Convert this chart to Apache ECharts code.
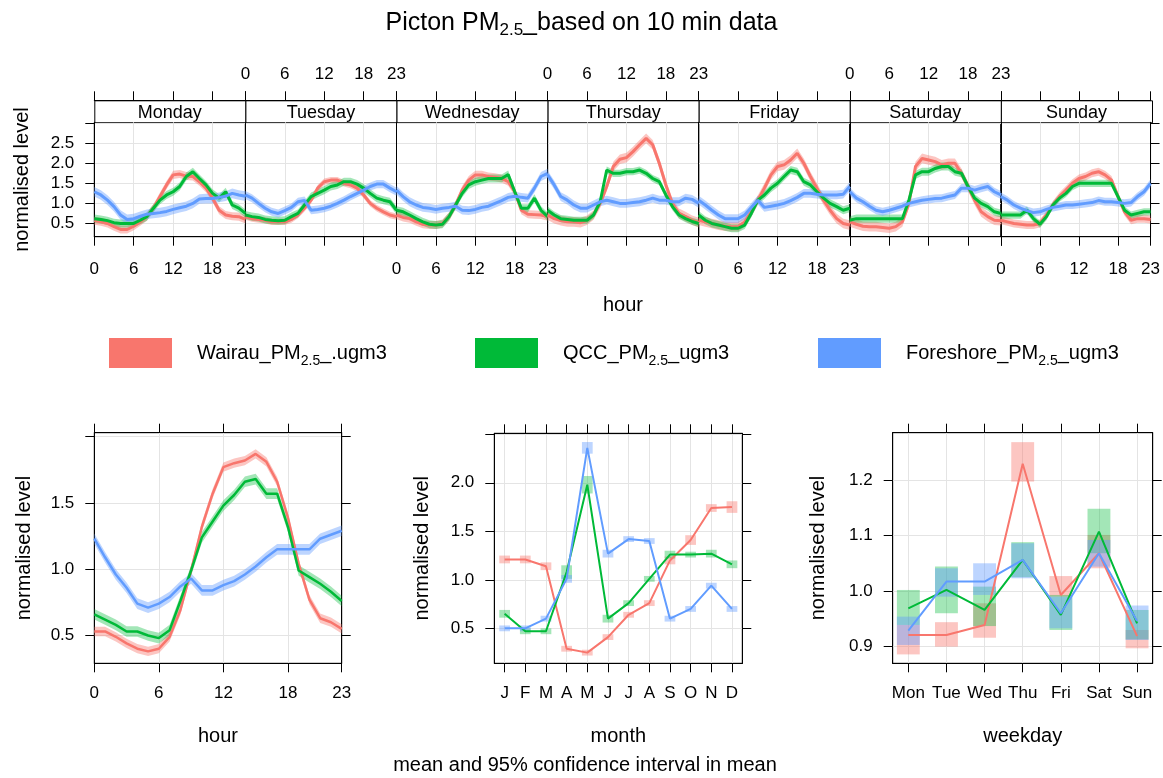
<!DOCTYPE html>
<html>
<head>
<meta charset="utf-8">
<script src="https://cdn.jsdelivr.net/npm/echarts@6/dist/echarts.min.js"></script>
<style>
html, body { margin: 0; padding: 0; background: #fff; }
#chart { width: 1163px; height: 778px; }
</style>
</head>
<body>
<div id="chart"></div>
<script>
const FONT = "'Liberation Sans', Arial, sans-serif"

const seriesNames = ['Wairau_PM2.5_.ugm3', 'QCC_PM2.5_ugm3', 'Foreshore_PM2.5_ugm3']
const lineCols = ['#F8766D', '#00BA38', '#619CFF']
const bandCols = ['rgba(248,118,109,0.42)', 'rgba(0,186,56,0.36)', 'rgba(97,156,255,0.42)']

const days = ['Monday', 'Tuesday', 'Wednesday', 'Thursday', 'Friday', 'Saturday', 'Sunday']
const hours = [0, 1, 2, 3, 4, 5, 6, 7, 8, 9, 10, 11, 12, 13, 14, 15, 16, 17, 18, 19, 20, 21, 22, 23]
const hourTicks = [0, 6, 12, 18, 23]
const months = ['J', 'F', 'M', 'A', 'M', 'J', 'J', 'A', 'S', 'O', 'N', 'D']
const monthNums = [1, 2, 3, 4, 5, 6, 7, 8, 9, 10, 11, 12]
const weekdays = ['Mon', 'Tue', 'Wed', 'Thu', 'Fri', 'Sat', 'Sun']
const weekdayNums = [1, 2, 3, 4, 5, 6, 7]

// day x hour means (Mon..Sun, hours 0..23)
const wairauWeek = [
  [0.57, 0.54, 0.5, 0.42, 0.35, 0.35, 0.43, 0.54, 0.67, 0.88, 1.17, 1.46, 1.71, 1.73, 1.68, 1.67, 1.54, 1.38, 1.13, 0.83, 0.71, 0.68, 0.67, 0.6],
  [0.67, 0.62, 0.6, 0.58, 0.54, 0.54, 0.54, 0.6, 0.71, 0.88, 1.08, 1.38, 1.54, 1.58, 1.58, 1.5, 1.46, 1.38, 1.21, 1.0, 0.88, 0.79, 0.71, 0.67],
  [0.71, 0.65, 0.62, 0.54, 0.48, 0.46, 0.46, 0.5, 0.67, 0.96, 1.33, 1.58, 1.71, 1.71, 1.67, 1.65, 1.62, 1.54, 1.29, 0.83, 0.73, 0.72, 0.71, 0.67],
  [0.71, 0.62, 0.57, 0.54, 0.54, 0.52, 0.58, 0.71, 1.0, 1.42, 1.92, 2.1, 2.14, 2.29, 2.46, 2.62, 2.46, 2.0, 1.46, 1.0, 0.75, 0.67, 0.58, 0.52],
  [0.58, 0.54, 0.5, 0.46, 0.43, 0.42, 0.42, 0.54, 0.79, 1.08, 1.38, 1.71, 1.92, 1.96, 2.08, 2.25, 2.0, 1.67, 1.38, 1.08, 0.83, 0.62, 0.5, 0.46],
  [0.54, 0.48, 0.43, 0.42, 0.42, 0.4, 0.38, 0.42, 0.54, 1.0, 1.92, 2.12, 2.08, 2.04, 1.96, 2.0, 2.0, 1.75, 1.42, 1.08, 0.79, 0.67, 0.58, 0.57],
  [0.58, 0.54, 0.5, 0.48, 0.46, 0.46, 0.5, 0.71, 0.96, 1.17, 1.33, 1.5, 1.62, 1.67, 1.75, 1.79, 1.71, 1.58, 1.17, 0.79, 0.58, 0.62, 0.62, 0.6]
]
const qccWeek = [
  [0.62, 0.6, 0.57, 0.52, 0.5, 0.5, 0.5, 0.58, 0.67, 0.88, 1.08, 1.21, 1.29, 1.42, 1.67, 1.79, 1.62, 1.46, 1.25, 1.13, 1.29, 0.96, 0.88, 0.75],
  [0.71, 0.67, 0.65, 0.6, 0.58, 0.57, 0.58, 0.67, 0.75, 0.96, 1.17, 1.25, 1.33, 1.42, 1.46, 1.54, 1.54, 1.48, 1.38, 1.25, 1.13, 1.08, 1.04, 0.83],
  [0.83, 0.79, 0.71, 0.62, 0.54, 0.48, 0.46, 0.48, 0.67, 0.96, 1.25, 1.46, 1.54, 1.58, 1.62, 1.62, 1.62, 1.72, 1.29, 0.88, 0.88, 1.13, 0.83, 0.67],
  [0.83, 0.71, 0.62, 0.6, 0.58, 0.58, 0.58, 0.71, 1.04, 1.83, 1.75, 1.75, 1.79, 1.79, 1.83, 1.75, 1.62, 1.54, 1.21, 0.92, 0.71, 0.62, 0.55, 0.5],
  [0.71, 0.58, 0.5, 0.46, 0.42, 0.38, 0.38, 0.46, 0.75, 1.08, 1.21, 1.38, 1.5, 1.67, 1.83, 1.79, 1.54, 1.46, 1.29, 1.13, 1.0, 0.92, 0.83, 0.88],
  [0.58, 0.62, 0.62, 0.62, 0.62, 0.62, 0.62, 0.62, 0.62, 1.08, 1.71, 1.79, 1.79, 1.87, 1.92, 1.92, 1.79, 1.75, 1.42, 1.13, 1.0, 0.92, 0.79, 0.75],
  [0.71, 0.71, 0.71, 0.71, 0.83, 0.62, 0.48, 0.67, 0.96, 1.13, 1.25, 1.42, 1.5, 1.5, 1.5, 1.5, 1.5, 1.5, 1.17, 0.83, 0.71, 0.75, 0.79, 0.79]
]
const foreshoreWeek = [
  [1.29, 1.21, 1.08, 0.92, 0.71, 0.6, 0.62, 0.68, 0.73, 0.75, 0.77, 0.8, 0.85, 0.89, 0.93, 1.0, 1.11, 1.12, 1.12, 1.15, 1.18, 1.25, 1.21, 1.18],
  [1.21, 1.13, 1.0, 0.88, 0.79, 0.75, 0.82, 0.9, 1.04, 1.07, 0.83, 0.85, 0.88, 0.93, 1.0, 1.08, 1.17, 1.25, 1.33, 1.42, 1.48, 1.48, 1.38, 1.29],
  [1.33, 1.17, 1.04, 0.96, 0.9, 0.88, 0.85, 0.88, 0.9, 0.93, 0.83, 0.82, 0.85, 0.9, 0.93, 1.0, 1.07, 1.15, 1.18, 1.15, 1.13, 1.38, 1.67, 1.75],
  [1.71, 1.46, 1.17, 1.08, 0.96, 0.88, 0.88, 0.96, 1.04, 1.08, 1.04, 1.0, 1.0, 1.02, 1.04, 1.08, 1.13, 1.08, 1.08, 1.04, 1.04, 1.13, 1.1, 1.0],
  [1.08, 0.96, 0.83, 0.71, 0.62, 0.62, 0.62, 0.71, 0.9, 1.08, 0.9, 0.93, 0.96, 1.0, 1.07, 1.15, 1.25, 1.25, 1.23, 1.21, 1.21, 1.21, 1.23, 1.42],
  [1.29, 1.13, 1.04, 0.93, 0.83, 0.79, 0.83, 0.88, 0.93, 1.0, 1.04, 1.08, 1.1, 1.12, 1.13, 1.17, 1.21, 1.38, 1.38, 1.33, 1.38, 1.42, 1.29, 1.21],
  [1.17, 1.08, 0.96, 0.88, 0.82, 0.77, 0.79, 0.85, 0.9, 0.93, 0.96, 0.96, 0.98, 1.0, 1.02, 1.07, 1.04, 1.04, 1.02, 1.0, 1.02, 1.17, 1.29, 1.5]
]
// half width of the 95% band, per series and day
const weekCI = [
  [0.1, 0.08, 0.1, 0.12, 0.12, 0.12, 0.1],
  [0.1, 0.1, 0.1, 0.09, 0.1, 0.1, 0.09],
  [0.12, 0.1, 0.11, 0.11, 0.11, 0.1, 0.1]
]

// hour of day
const wairauHour = [0.53, 0.53, 0.49, 0.44, 0.4, 0.38, 0.4, 0.49, 0.69, 0.99, 1.32, 1.57, 1.77, 1.8, 1.82, 1.87, 1.81, 1.66, 1.39, 1.04, 0.77, 0.63, 0.6, 0.55]
const qccHour = [0.66, 0.62, 0.58, 0.53, 0.53, 0.5, 0.48, 0.54, 0.76, 0.99, 1.24, 1.36, 1.48, 1.56, 1.66, 1.68, 1.57, 1.57, 1.32, 0.99, 0.94, 0.89, 0.83, 0.76]
const foreshoreHour = [1.23, 1.09, 0.96, 0.86, 0.74, 0.71, 0.74, 0.79, 0.87, 0.93, 0.84, 0.84, 0.88, 0.91, 0.96, 1.02, 1.09, 1.15, 1.15, 1.15, 1.15, 1.23, 1.26, 1.29]
const hourCI = [0.035, 0.04, 0.04]

// month
const wairauMonth = [1.21, 1.21, 1.14, 0.29, 0.25, 0.41, 0.64, 0.76, 1.2, 1.41, 1.74, 1.75]
const qccMonth = [0.65, 0.47, 0.47, 1.08, 1.98, 0.6, 0.76, 1.01, 1.26, 1.26, 1.27, 1.16]
const foreshoreMonth = [0.5, 0.5, 0.6, 1.01, 2.36, 1.27, 1.42, 1.4, 0.6, 0.7, 0.94, 0.7]
const wairauMonthCI = [0.04, 0.04, 0.04, 0.03, 0.03, 0.03, 0.03, 0.03, 0.04, 0.05, 0.04, 0.06]
const qccMonthCI = [0.04, 0.03, 0.03, 0.07, 0.09, 0.04, 0.03, 0.03, 0.04, 0.03, 0.04, 0.04]
const foreshoreMonthCI = [0.03, 0.03, 0.03, 0.04, 0.06, 0.04, 0.03, 0.03, 0.03, 0.03, 0.03, 0.03]

// weekday
const wairauDay = [0.921, 0.921, 0.939, 1.229, 0.993, 1.068, 0.919]
const wairauDayLo = [0.886, 0.9, 0.916, 1.197, 0.99, 1.041, 0.897]
const wairauDayHi = [0.939, 0.944, 0.978, 1.268, 1.027, 1.101, 0.93]
const qccDay = [0.969, 1.002, 0.966, 1.056, 0.957, 1.107, 0.942]
const qccDayLo = [0.939, 0.96, 0.937, 1.025, 0.93, 1.068, 0.913]
const qccDayHi = [1.002, 1.044, 1.008, 1.088, 0.993, 1.148, 0.966]
const foreshoreDay = [0.929, 1.017, 1.017, 1.056, 0.96, 1.068, 0.946]
const foreshoreDayLo = [0.903, 0.99, 0.993, 1.023, 0.933, 1.044, 0.912]
const foreshoreDayHi = [0.954, 1.041, 1.05, 1.086, 0.99, 1.092, 0.974]

const weekData = [wairauWeek, qccWeek, foreshoreWeek]
const hourData = [wairauHour, qccHour, foreshoreHour]
const monthData = [wairauMonth, qccMonth, foreshoreMonth]
const monthCI = [wairauMonthCI, qccMonthCI, foreshoreMonthCI]
const dayData = [wairauDay, qccDay, foreshoreDay]
const dayLo = [wairauDayLo, qccDayLo, foreshoreDayLo]
const dayHi = [wairauDayHi, qccDayHi, foreshoreDayHi]

const fmt1 = v => v.toFixed(1)

function axis(gridIndex, o) {
  return {
    type: 'value',
    gridIndex,
    min: o.min,
    max: o.max,
    position: o.position,
    offset: o.offset || 0,
    axisLine: { show: o.line !== false, onZero: false, lineStyle: { color: '#000', width: 1 } },
    axisTick: { show: o.tickShow !== false, customValues: o.ticks, length: 9, lineStyle: { color: '#000' } },
    axisLabel: {
      show: !!o.labels, customValues: o.labels || o.ticks, margin: o.margin || 20,
      color: '#000', fontSize: 17, fontFamily: FONT, formatter: o.formatter
    },
    splitLine: { show: !!o.split, lineStyle: { color: '#e4e4e4', width: 1 } },
    name: o.name || '',
    nameLocation: 'middle',
    nameGap: o.nameGap || 0,
    nameTextStyle: { color: '#000', fontSize: 20, fontFamily: FONT }
  }
}

function bandSeries(name, xi, yi, xs, lo, hi, color) {
  const data = xs.map((x, i) => [x, lo[i], hi[i]])
  return {
    type: 'custom', name, xAxisIndex: xi, yAxisIndex: yi, silent: true, clip: true, data,
    encode: { x: 0, y: [1, 2] },
    renderItem(params, api) {
      if (params.dataIndex !== 0) return null
      const pts = []
      for (let i = 0; i < data.length; i++) pts.push(api.coord([data[i][0], data[i][2]]))
      for (let i = data.length - 1; i >= 0; i--) pts.push(api.coord([data[i][0], data[i][1]]))
      return { type: 'polygon', shape: { points: pts }, style: { fill: color } }
    }
  }
}

function boxSeries(name, xi, yi, xs, lo, hi, halfW, color) {
  return {
    type: 'custom', name, xAxisIndex: xi, yAxisIndex: yi, silent: true,
    data: xs.map((x, i) => [x, lo[i], hi[i]]),
    encode: { x: 0, y: [1, 2] },
    renderItem(params, api) {
      const p1 = api.coord([api.value(0) - halfW, api.value(2)])
      const p2 = api.coord([api.value(0) + halfW, api.value(1)])
      return { type: 'rect', shape: { x: p1[0], y: p1[1], width: p2[0] - p1[0], height: p2[1] - p1[1] }, style: { fill: color } }
    }
  }
}

function lineSeries(name, xi, yi, xs, ys, color, width) {
  return {
    type: 'line', name, xAxisIndex: xi, yAxisIndex: yi,
    data: xs.map((x, i) => [x, ys[i]]),
    showSymbol: false, symbol: 'none', silent: true,
    lineStyle: { color, width }, itemStyle: { color }
  }
}

const grids = [], xAxes = [], yAxes = [], series = [], graphics = []

// ---- week panels
const P = { left: 94.3, w: 151.1, top: 122.3, h: 114.4, strip: 22 }
days.forEach((day, d) => {
  const g = grids.length
  grids.push({ left: P.left + d * P.w, top: P.top, width: P.w, height: P.h, show: true, borderColor: '#000', borderWidth: 1 })
  const xi = xAxes.length
  xAxes.push(axis(g, { min: 0, max: 23, ticks: hourTicks, labels: d % 2 === 0 ? hourTicks : null, split: true, margin: 24 }))
  xAxes.push(axis(g, { min: 0, max: 23, ticks: hourTicks, labels: d % 2 === 1 ? hourTicks : null, position: 'top', offset: P.strip, margin: 17 }))
  const yi = yAxes.length
  yAxes.push(axis(g, {
    min: 0.17, max: 3.02, ticks: [0.5, 1, 1.5, 2, 2.5, 3], labels: d === 0 ? [0.5, 1, 1.5, 2, 2.5] : null,
    formatter: fmt1, split: true, tickShow: d === 0,
    name: d === 0 ? 'normalised level' : '', nameGap: 62
  }))
  if (d === 6) yAxes.push(axis(g, { min: 0.17, max: 3.02, ticks: [0.5, 1, 1.5, 2, 2.5, 3], position: 'right' }))
  for (let s = 0; s < 3; s++) {
    const m = weekData[s][d], c = weekCI[s][d]
    series.push(bandSeries(seriesNames[s] + ' ci', xi, yi, hours, m.map(v => v - c), m.map(v => v + c), bandCols[s]))
    series.push(lineSeries(seriesNames[s], xi, yi, hours, m, lineCols[s], 3))
  }
  graphics.push({
    type: 'rect', left: P.left + d * P.w, top: P.top - P.strip,
    shape: { width: P.w, height: P.strip }, style: { fill: '#fff', stroke: '#000', lineWidth: 1 }
  })
  graphics.push({
    type: 'text', x: P.left + (d + 0.5) * P.w, y: P.top - P.strip / 2 + 2,
    style: { text: day, fill: '#000', font: '18px ' + FONT, textAlign: 'center', textVerticalAlign: 'middle' }
  })
})

// ---- hour panel
{
  const g = grids.length
  grids.push({ left: 94.3, top: 432.7, width: 247.4, height: 230.6, show: true, borderColor: '#000', borderWidth: 1 })
  const xi = xAxes.length
  xAxes.push(axis(g, { min: 0, max: 23, ticks: hourTicks, labels: hourTicks, split: true, margin: 22, name: 'hour', nameGap: 63 }))
  xAxes.push(axis(g, { min: 0, max: 23, ticks: hourTicks, position: 'top' }))
  const yi = yAxes.length
  yAxes.push(axis(g, { min: 0.29, max: 2.03, ticks: [0.5, 1, 1.5, 2], labels: [0.5, 1, 1.5], formatter: fmt1, split: true, name: 'normalised level', nameGap: 60 }))
  yAxes.push(axis(g, { min: 0.29, max: 2.03, ticks: [0.5, 1, 1.5, 2], position: 'right' }))
  for (let s = 0; s < 3; s++) {
    const m = hourData[s], c = hourCI[s]
    series.push(bandSeries(seriesNames[s] + ' ci', xi, yi, hours, m.map(v => v - c), m.map(v => v + c), bandCols[s]))
    series.push(lineSeries(seriesNames[s], xi, yi, hours, m, lineCols[s], 2.5))
  }
}

// ---- month panel
{
  const g = grids.length
  grids.push({ left: 494.3, top: 433.3, width: 248, height: 230, show: true, borderColor: '#000', borderWidth: 1 })
  const xi = xAxes.length
  xAxes.push(axis(g, { min: 0.5, max: 12.5, ticks: monthNums, labels: monthNums, formatter: v => months[v - 1], split: true, margin: 22, name: 'month', nameGap: 63 }))
  xAxes.push(axis(g, { min: 0.5, max: 12.5, ticks: monthNums, position: 'top' }))
  const yi = yAxes.length
  yAxes.push(axis(g, { min: 0.14, max: 2.51, ticks: [0.5, 1, 1.5, 2, 2.5], labels: [0.5, 1, 1.5, 2], formatter: fmt1, split: true, name: 'normalised level', nameGap: 62 }))
  yAxes.push(axis(g, { min: 0.14, max: 2.51, ticks: [0.5, 1, 1.5, 2, 2.5], position: 'right' }))
  for (let s = 0; s < 3; s++) {
    const m = monthData[s], c = monthCI[s]
    series.push(boxSeries(seriesNames[s] + ' ci', xi, yi, monthNums, m.map((v, i) => v - c[i]), m.map((v, i) => v + c[i]), 0.26, bandCols[s]))
    series.push(lineSeries(seriesNames[s], xi, yi, monthNums, m, lineCols[s], 2))
  }
}

// ---- weekday panel
{
  const g = grids.length
  grids.push({ left: 892.7, top: 432.7, width: 260, height: 230.6, show: true, borderColor: '#000', borderWidth: 1 })
  const xi = xAxes.length
  xAxes.push(axis(g, { min: 0.59, max: 7.41, ticks: weekdayNums, labels: weekdayNums, formatter: v => weekdays[v - 1], split: true, margin: 22, name: 'weekday', nameGap: 63 }))
  xAxes.push(axis(g, { min: 0.59, max: 7.41, ticks: weekdayNums, position: 'top' }))
  const yi = yAxes.length
  yAxes.push(axis(g, { min: 0.87, max: 1.285, ticks: [0.9, 1, 1.1, 1.2], labels: [0.9, 1, 1.1, 1.2], formatter: fmt1, split: true, name: 'normalised level', nameGap: 64 }))
  yAxes.push(axis(g, { min: 0.87, max: 1.285, ticks: [0.9, 1, 1.1, 1.2], position: 'right' }))
  for (let s = 0; s < 3; s++) {
    series.push(boxSeries(seriesNames[s] + ' ci', xi, yi, weekdayNums, dayLo[s], dayHi[s], 0.3, bandCols[s]))
    series.push(lineSeries(seriesNames[s], xi, yi, weekdayNums, dayData[s], lineCols[s], 2))
  }
}

graphics.push({
  type: 'text', x: 623, y: 305,
  style: { text: 'hour', fill: '#000', font: '20px ' + FONT, textAlign: 'center', textVerticalAlign: 'middle' }
})
graphics.push({
  type: 'text', x: 585, y: 765,
  style: { text: 'mean and 95% confidence interval in mean', fill: '#000', font: '20px ' + FONT, textAlign: 'center', textVerticalAlign: 'middle' }
})

const richText = {
  n: { fontSize: 20, fontFamily: FONT, color: '#000', lineHeight: 30, verticalAlign: 'middle' },
  s: { fontSize: 14, fontFamily: FONT, color: '#000', lineHeight: 13, verticalAlign: 'bottom' }
}
const subName = name => {
  const [a, b] = name.split('2.5')
  return '{n|' + a + '}{s|2.5}{n|' + b + '}'
}
const legendLefts = [104, 470, 813]
const legends = seriesNames.map((name, s) => ({
  left: legendLefts[s], top: 333, orient: 'horizontal',
  icon: 'rect', itemWidth: 63, itemHeight: 30,
  data: [{ name, itemStyle: { color: lineCols[s] } }],
  formatter: subName,
  textStyle: { padding: [0, 0, 0, 20], rich: richText },
  selectedMode: false
}))

const chart = echarts.init(document.getElementById('chart'))
chart.setOption({
  animation: false,
  backgroundColor: '#fff',
  title: {
    text: '{n|Picton PM}{s|2.5}{n|_based on 10 min data}',
    left: 'center', top: 2,
    textStyle: {
      fontWeight: 'normal',
      rich: {
        n: { fontSize: 25, fontWeight: 'normal', fontFamily: FONT, color: '#000', lineHeight: 32, verticalAlign: 'middle' },
        s: { fontSize: 17, fontWeight: 'normal', fontFamily: FONT, color: '#000', lineHeight: 14, verticalAlign: 'bottom' }
      }
    }
  },
  legend: legends,
  grid: grids,
  xAxis: xAxes,
  yAxis: yAxes,
  series,
  graphic: graphics
})
</script>
</body>
</html>
